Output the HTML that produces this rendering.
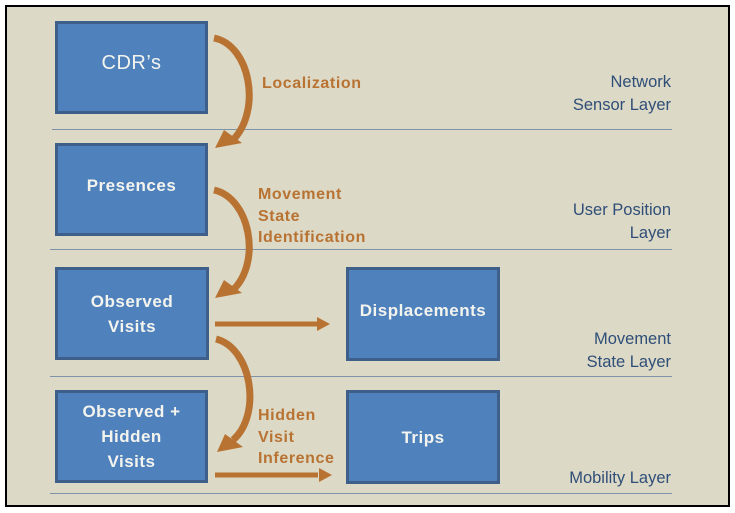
<!DOCTYPE html>
<html><head><style>
body{margin:0;width:735px;height:513px;background:#fff;overflow:hidden;font-family:"Liberation Sans",sans-serif}
.frame{position:absolute;left:5px;top:5px;width:721px;height:498px;border:2px solid #000;background:#dcd9c6}
.box{position:absolute;background:#4f81bd;border:3px solid #3d5f8a;box-sizing:border-box;color:#f4f4ee;font-weight:bold;font-size:17px;text-align:center;display:flex;align-items:center;justify-content:center;line-height:25px;letter-spacing:0.5px}
.lbl{position:absolute;color:#b87333;font-weight:bold;font-size:16px;line-height:21.5px;letter-spacing:0.6px}
.lay{position:absolute;right:64px;color:#2f4e78;font-size:16.5px;text-align:right;line-height:23px}
.hl{position:absolute;height:0;border-top:1px solid #7f93a8}
</style></head><body>
<div class="frame"></div>
<div class="hl" style="left:52px;top:129px;width:620px"></div>
<div class="hl" style="left:50px;top:249px;width:622px"></div>
<div class="hl" style="left:50px;top:376px;width:622px"></div>
<div class="hl" style="left:50px;top:493px;width:622px"></div>
<div class="box" style="left:55px;top:21px;width:153px;height:93px;font-weight:normal;font-size:20px;padding-bottom:8px">CDR’s</div>
<div class="box" style="left:55px;top:143px;width:153px;height:93px;padding-bottom:8px">Presences</div>
<div class="box" style="left:55px;top:267px;width:154px;height:93px">Observed<br>Visits</div>
<div class="box" style="left:55px;top:390px;width:153px;height:93px">Observed +<br>Hidden<br>Visits</div>
<div class="box" style="left:346px;top:267px;width:154px;height:94px;padding-bottom:8px">Displacements</div>
<div class="box" style="left:346px;top:390px;width:154px;height:94px">Trips</div>
<svg style="position:absolute;left:0;top:0" width="735" height="513">
<g fill="none" stroke="#b87333" stroke-width="7">
<path d="M214,38 C250,45 262,110 233,140"/>
<path d="M214,190 C250,198 262,262 233,290"/>
<path d="M216,339 C252,348 262,415 233,440"/>
<path d="M215,324 L318,324" stroke-width="5"/>
<path d="M215,475 L318,475" stroke-width="5"/>
</g>
<g fill="#b87333">
<polygon points="215,148 224,130 242,143"/>
<polygon points="215,298 224,280 242,293"/>
<polygon points="217,452 225,434 243,447"/>
<polygon points="330,324 317,317 317,331"/>
<polygon points="332,475 319,468 319,482"/>
</g>
</svg>
<div class="lbl" style="left:262px;top:73px">Localization</div>
<div class="lbl" style="left:258px;top:184px">Movement<br>State<br>Identification</div>
<div class="lbl" style="left:258px;top:405px">Hidden<br>Visit<br>Inference</div>
<div class="lay" style="top:71px">Network<br>Sensor Layer</div>
<div class="lay" style="top:199px">User Position<br>Layer</div>
<div class="lay" style="top:328px">Movement<br>State Layer</div>
<div class="lay" style="top:467px">Mobility Layer</div>
</body></html>
